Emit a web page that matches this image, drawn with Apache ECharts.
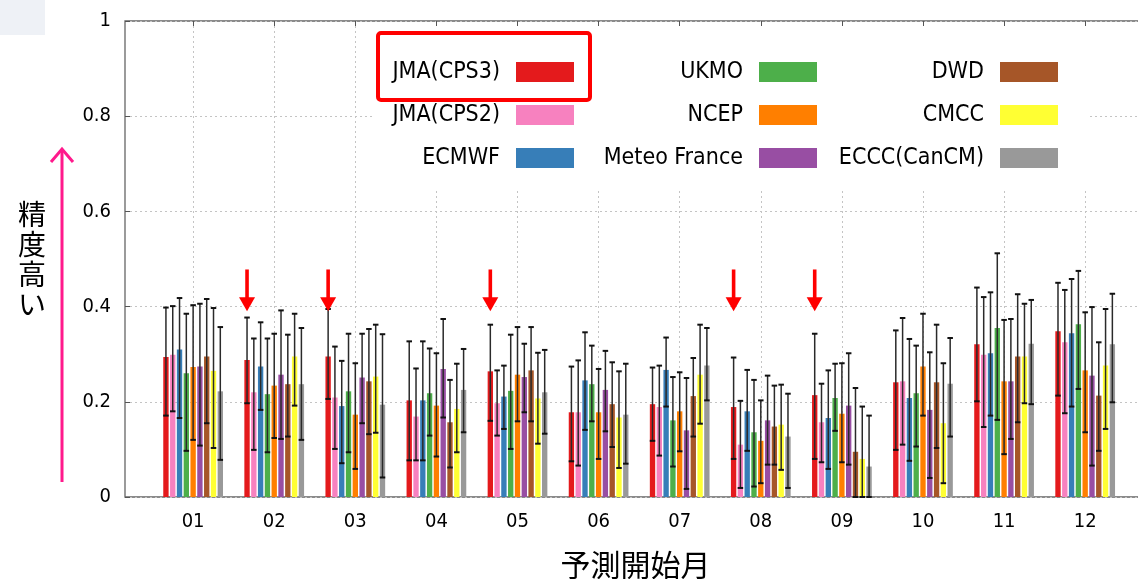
<!DOCTYPE html>
<html><head><meta charset="utf-8">
<script src="https://cdn.jsdelivr.net/npm/echarts@6/dist/echarts.min.js"></script>
<style>html,body{margin:0;padding:0;background:#fff}#c{width:1138px;height:579px}</style>
</head><body><div id="c"></div><script>
// ---- data ----
const months = ['01','02','03','04','05','06','07','08','09','10','11','12'];
const monthNums = [1,2,3,4,5,6,7,8,9,10,11,12];
const models = ['JMA(CPS3)','JMA(CPS2)','ECMWF','UKMO','NCEP','Meteo France','DWD','CMCC','ECCC(CanCM)'];

const mean_JMA_CPS3 = [0.294,0.288,0.295,0.203,0.264,0.178,0.195,0.189,0.214,0.241,0.321,0.348];
const lo_JMA_CPS3   = [0.171,0.197,0.206,0.077,0.160,0.075,0.118,0.080,0.080,0.099,0.201,0.213];
const hi_JMA_CPS3   = [0.398,0.377,0.395,0.327,0.362,0.274,0.272,0.293,0.343,0.350,0.440,0.450];

const mean_JMA_CPS2 = [0.299,0.220,0.209,0.169,0.197,0.178,0.189,0.110,0.157,0.243,0.299,0.325];
const lo_JMA_CPS2   = [0.180,0.099,0.101,0.077,0.129,0.066,0.087,0.019,0.073,0.110,0.147,0.176];
const hi_JMA_CPS2   = [0.401,0.333,0.316,0.270,0.266,0.287,0.276,0.202,0.238,0.376,0.420,0.435];

const mean_ECMWF = [0.310,0.274,0.191,0.203,0.211,0.245,0.267,0.180,0.166,0.208,0.302,0.344];
const lo_ECMWF   = [0.166,0.183,0.071,0.077,0.143,0.141,0.190,0.097,0.059,0.076,0.171,0.190];
const hi_ECMWF   = [0.418,0.367,0.286,0.327,0.276,0.346,0.335,0.267,0.266,0.332,0.430,0.458];

const mean_UKMO = [0.260,0.216,0.222,0.218,0.223,0.237,0.161,0.136,0.208,0.218,0.355,0.363];
const lo_UKMO   = [0.097,0.094,0.094,0.129,0.101,0.159,0.064,0.022,0.139,0.106,0.162,0.227];
const hi_UKMO   = [0.385,0.333,0.343,0.312,0.341,0.318,0.252,0.246,0.280,0.318,0.512,0.475];

const mean_NCEP = [0.273,0.234,0.173,0.192,0.257,0.178,0.180,0.118,0.175,0.274,0.243,0.266];
const lo_NCEP   = [0.120,0.124,0.059,0.085,0.159,0.080,0.096,0.029,0.073,0.171,0.090,0.136];
const hi_NCEP   = [0.403,0.343,0.281,0.302,0.357,0.269,0.262,0.203,0.281,0.385,0.372,0.388];

const mean_MeteoFrance = [0.274,0.257,0.251,0.269,0.252,0.225,0.140,0.161,0.192,0.183,0.243,0.255];
const lo_MeteoFrance   = [0.108,0.122,0.155,0.167,0.178,0.138,0.017,0.068,0.068,0.040,0.122,0.066];
const hi_MeteoFrance   = [0.406,0.392,0.343,0.374,0.322,0.307,0.250,0.255,0.302,0.304,0.374,0.399];

const mean_DWD = [0.295,0.237,0.243,0.157,0.266,0.195,0.212,0.148,0.095,0.241,0.295,0.213];
const lo_DWD   = [0.155,0.127,0.132,0.062,0.159,0.105,0.127,0.068,0.000,0.103,0.157,0.097];
const hi_DWD   = [0.416,0.341,0.353,0.246,0.357,0.283,0.292,0.234,0.229,0.362,0.426,0.325];

const mean_CMCC = [0.265,0.295,0.253,0.185,0.207,0.167,0.257,0.152,0.080,0.155,0.295,0.276];
const lo_CMCC   = [0.103,0.192,0.135,0.094,0.112,0.061,0.154,0.057,0.000,0.029,0.197,0.143];
const hi_CMCC   = [0.397,0.385,0.362,0.280,0.303,0.264,0.362,0.236,0.190,0.281,0.406,0.395];

const mean_ECCC = [0.222,0.237,0.194,0.225,0.220,0.173,0.276,0.127,0.064,0.238,0.322,0.321];
const lo_ECCC   = [0.078,0.120,0.041,0.136,0.133,0.070,0.203,0.019,0.000,0.127,0.195,0.199];
const hi_ECCC   = [0.357,0.355,0.342,0.311,0.309,0.280,0.355,0.217,0.171,0.334,0.414,0.427];

// months highlighted by red arrows, and the arrow's value range
const arrowMonths = [2,3,5,8,9];
const arrowTop = 0.478;
const arrowTip = 0.39;

// ---- assembly ----
const means = [mean_JMA_CPS3,mean_JMA_CPS2,mean_ECMWF,mean_UKMO,mean_NCEP,mean_MeteoFrance,mean_DWD,mean_CMCC,mean_ECCC];
const lows  = [lo_JMA_CPS3,lo_JMA_CPS2,lo_ECMWF,lo_UKMO,lo_NCEP,lo_MeteoFrance,lo_DWD,lo_CMCC,lo_ECCC];
const highs = [hi_JMA_CPS3,hi_JMA_CPS2,hi_ECMWF,hi_UKMO,hi_NCEP,hi_MeteoFrance,hi_DWD,hi_CMCC,hi_ECCC];
const colors = ['#e41a1c','#f781bf','#377eb8','#4daf4a','#ff7f00','#984ea3','#a65628','#ffff33','#999999'];

const PITCH = 0.0838;  // spacing between bars, in month units
const BARW = 0.066;    // bar width, in month units
const CAPW = 0.068;    // error-bar cap width

function barSeries(idx) {
  return {
    type: 'custom', name: models[idx], xAxisIndex: 0, yAxisIndex: 0,
    itemStyle: { color: colors[idx] },
    encode: { x: 0, y: 1 },
    data: monthNums.map((m, k) => [m, means[idx][k], lows[idx][k], highs[idx][k]]),
    z: 2,
    renderItem: function (params, api) {
      const unit = api.size([1, 0])[0];
      const x = api.value(0);
      const base = api.coord([x, 0]);
      const cx = base[0] + (idx - 4) * PITCH * unit;
      const bw = BARW * unit, cw = CAPW * unit;
      const top = api.coord([x, api.value(1)])[1];
      const lo = api.coord([x, api.value(2)])[1];
      const hi = api.coord([x, api.value(3)])[1];
      return { type: 'group', children: [
        { type: 'rect', shape: { x: cx - bw / 2, y: top, width: bw, height: base[1] - top }, style: { fill: colors[idx] } },
        { type: 'line', shape: { x1: cx, y1: hi, x2: cx, y2: lo }, style: { stroke: '#2a2a2a', lineWidth: 1.5 } },
        { type: 'line', shape: { x1: cx - cw / 2, y1: hi, x2: cx + cw / 2, y2: hi }, style: { stroke: '#111', lineWidth: 2 } },
        { type: 'line', shape: { x1: cx - cw / 2, y1: lo, x2: cx + cw / 2, y2: lo }, style: { stroke: '#111', lineWidth: 2 } }
      ]};
    }
  };
}

const arrowSeries = {
  type: 'custom', name: 'arrows', xAxisIndex: 0, yAxisIndex: 0, z: 3,
  data: arrowMonths.map(m => [m, arrowTop, arrowTip]),
  encode: { x: 0, y: 1 },
  renderItem: function (params, api) {
    const unit = api.size([1, 0])[0];
    const x = api.value(0);
    const cx = api.coord([x, 0])[0] - 4 * PITCH * unit;
    const yTop = api.coord([x, api.value(1)])[1];
    const yTip = api.coord([x, api.value(2)])[1];
    const headH = 14, headW = 16, shaftW = 3.6;
    return { type: 'group', children: [
      { type: 'rect', shape: { x: cx - shaftW / 2, y: yTop, width: shaftW, height: yTip - headH - yTop + 1 }, style: { fill: '#ff0000' } },
      { type: 'polygon', shape: { points: [[cx - headW / 2, yTip - headH], [cx + headW / 2, yTip - headH], [cx, yTip]] }, style: { fill: '#ff0000' } }
    ]};
  }
};

const legendFont = "'Liberation Sans Narrow', 'DejaVu Sans Condensed', 'DejaVu Sans', sans-serif";
const tickFont = "'DejaVu Sans Condensed', 'DejaVu Sans', sans-serif";
const legendRights = [564, 321, 80];

const option = {
  animation: false,
  backgroundColor: '#fff',
  grid: { left: 125, top: 21, right: -8, bottom: 82, outerBoundsMode: 'none', containLabel: false,
          show: true, borderColor: '#666', borderWidth: 1.3, backgroundColor: 'transparent' },
  legend: [0, 1, 2].map(col => ({
    orient: 'vertical', align: 'right', right: legendRights[col], top: 60, padding: 0,
    data: models.slice(col * 3, col * 3 + 3),
    icon: 'rect', itemWidth: 58, itemHeight: 20, itemGap: 19, selectedMode: false,
    textStyle: { fontFamily: legendFont, fontSize: 23, color: '#000', lineHeight: 24, padding: [0, 11, 0, 0] }
  })),
  xAxis: [{
    type: 'value', min: 0.16, max: 12.75, position: 'bottom',
    axisLine: { show: false },
    axisTick: { show: true, inside: true, length: 5, customValues: monthNums, lineStyle: { color: '#555' } },
    axisLabel: { customValues: monthNums, formatter: v => months[Math.round(v) - 1], fontFamily: tickFont, fontSize: 20, color: '#000', margin: 15 },
    splitLine: { show: true, lineStyle: { type: [2, 3], color: '#c4c4c4', width: 1 } },
    name: '予測開始月', nameLocation: 'middle', nameGap: 68,
    nameTextStyle: { fontFamily: "'Noto Sans CJK JP', sans-serif", fontSize: 30, color: '#000', align: 'center', verticalAlign: 'middle' }
  }, {
    type: 'value', min: 0.16, max: 12.75, position: 'top',
    axisLine: { show: false },
    axisTick: { show: true, inside: true, length: 5, customValues: monthNums, lineStyle: { color: '#555' } },
    axisLabel: { show: false }, splitLine: { show: false }
  }],
  yAxis: {
    type: 'value', min: 0, max: 1, interval: 0.2,
    axisLine: { show: false },
    axisTick: { show: true, inside: true, length: 5, lineStyle: { color: '#555' } },
    axisLabel: { fontFamily: tickFont, fontSize: 20, color: '#000', margin: 14 },
    splitLine: { show: true, lineStyle: { type: [2, 3], color: '#c4c4c4', width: 1 } },
    name: '精\n度\n高\nい', nameLocation: 'middle', nameGap: 93, nameRotate: 0,
    nameTextStyle: { fontFamily: "'Noto Sans CJK JP', sans-serif", fontSize: 28, lineHeight: 30, color: '#000', align: 'center', verticalAlign: 'middle' }
  },
  graphic: [
    { type: 'rect', z: 1, shape: { x: 0, y: 0, width: 45, height: 35 }, style: { fill: '#eef1f6' } },
    { type: 'rect', z: 1, shape: { x: 372, y: 26, width: 716, height: 162 }, style: { fill: '#ffffff' } },
    { type: 'rect', z: 10, shape: { x: 378, y: 33, width: 212, height: 67, r: 3 }, style: { fill: 'none', stroke: '#ff0000', lineWidth: 4 } },
    { type: 'line', z: 10, shape: { x1: 62, y1: 482, x2: 62, y2: 150 }, style: { stroke: '#ff1a8c', lineWidth: 3 } },
    { type: 'polyline', z: 10, shape: { points: [[51, 162], [62, 149], [73, 162]] }, style: { stroke: '#ff1a8c', lineWidth: 3, fill: 'none' } }
  ],
  series: models.map((m, i) => barSeries(i)).concat([arrowSeries])
};

const chart = echarts.init(document.getElementById('c'), null, { renderer: 'canvas' });
chart.setOption(option);
</script></body></html>
